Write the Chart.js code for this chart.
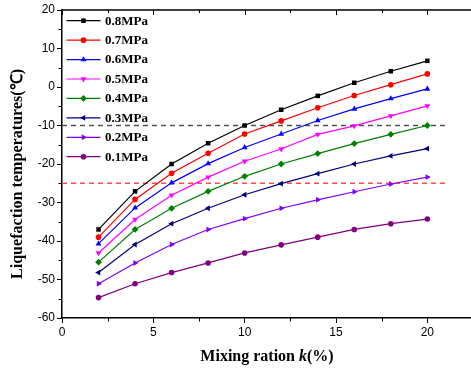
<!DOCTYPE html>
<html>
<head>
<meta charset="utf-8">
<script src="https://cdn.jsdelivr.net/npm/chart.js@4"></script>
<style>
  html, body { margin: 0; padding: 0; background: #fff; overflow: hidden; }
  #wrap { width: 471px; height: 373px; overflow: hidden; }
</style>
</head>
<body>
<div id="wrap"><canvas id="tempChart" width="480" height="373"></canvas></div>
<script>
// mixing ratio k (%)
const ratios = [2, 4, 6, 8, 10, 12, 14, 16, 18, 20];

// liquefaction temperature (C) per pressure
const p08 = [-37.0, -27.1, -20.0, -14.6, -10.0, -5.9, -2.3, 1.1, 4.1, 6.8];
const p07 = [-39.0, -29.2, -22.4, -17.2, -12.2, -8.8, -5.4, -2.2, 0.6, 3.4];
const p06 = [-40.7, -31.4, -24.9, -19.9, -15.7, -12.2, -8.7, -5.7, -3.0, -0.5];
const p05 = [-43.1, -34.4, -28.1, -23.4, -19.3, -16.1, -12.3, -10.1, -7.5, -4.9];
const p04 = [-45.5, -37.0, -31.5, -27.1, -23.2, -20.0, -17.3, -14.7, -12.3, -10.0];
const p03 = [-48.2, -40.9, -35.5, -31.5, -28.0, -25.1, -22.5, -20.0, -17.9, -16.0];
const p02 = [-51.1, -45.7, -40.9, -37.0, -34.2, -31.5, -29.3, -27.2, -25.2, -23.4];
const p01 = [-54.7, -51.1, -48.2, -45.7, -43.1, -41.0, -39.0, -37.0, -35.5, -34.3];

const seriesNames = ["0.8MPa", "0.7MPa", "0.6MPa", "0.5MPa", "0.4MPa", "0.3MPa", "0.2MPa", "0.1MPa"];
const seriesValues = [p08, p07, p06, p05, p04, p03, p02, p01];

// reference lines
const refLevels = [-10, -25];
const refSpan = [0, 21];

const colors = ["#000000", "#ff0000", "#0000ff", "#ff00ff", "#008000", "#000080", "#8000ff", "#800080"];
const styles = ["rect", "circle", "triangle", "triangle", "rectRot", "triangle", "triangle", "circle"];
const rotations = [0, 0, 0, 180, 0, 270, 90, 0];
const refColors = ["#505050", "#ff4d4d"];

function markerSize(style) {
    if (style === "circle") return 2.8;
    if (style === "rect") return 3.2;
    return 3.4;
}

const datasets = seriesValues.map((vals, i) => ({
    label: seriesNames[i],
    data: vals.map((v, j) => ({ x: ratios[j], y: v })),
    borderColor: colors[i],
    backgroundColor: colors[i],
    borderWidth: 1.2,
    pointStyle: styles[i],
    pointRotation: rotations[i],
    pointRadius: markerSize(styles[i]),
    pointBorderWidth: 0,
    tension: 0
}));

refLevels.forEach((lvl, i) => {
    datasets.push({
        label: "ref" + i,
        data: refSpan.map(x => ({ x: x, y: lvl })),
        borderColor: refColors[i],
        borderWidth: 1.3,
        borderDash: [5, 4],
        pointRadius: 0
    });
});

function drawMarker(ctx, style, rot, x, y, r, color) {
    if (Chart.helpers && Chart.helpers.drawPoint) {
        ctx.fillStyle = color;
        ctx.strokeStyle = color;
        ctx.lineWidth = 0;
        Chart.helpers.drawPoint(ctx, { pointStyle: style, rotation: rot, radius: r, borderWidth: 0 }, x, y);
    }
}

const serif = "'Liberation Serif', 'Times New Roman', serif";

const framePlugin = {
    id: "frame",
    afterDraw(chart) {
        const ctx = chart.ctx;
        const a = chart.chartArea;
        const xs = chart.scales.x;
        const ys = chart.scales.y;
        ctx.save();
        // top border with inward ticks
        ctx.strokeStyle = "#000";
        ctx.lineWidth = 1.5;
        ctx.beginPath();
        ctx.moveTo(a.left, a.top);
        ctx.lineTo(a.right, a.top);
        ctx.stroke();
        ctx.lineWidth = 1;
        for (let v = 0; v <= 22.5; v += 2.5) {
            const px = Math.round(xs.getPixelForValue(v)) + 0.5;
            const len = v % 5 === 0 ? 5 : 3;
            ctx.beginPath();
            ctx.moveTo(px, a.top);
            ctx.lineTo(px, a.top + len);
            ctx.stroke();
        }
        // short minor ticks, outside
        for (let v = 2.5; v <= 22.5; v += 5) {
            const px = Math.round(xs.getPixelForValue(v)) + 0.5;
            ctx.beginPath();
            ctx.moveTo(px, a.bottom);
            ctx.lineTo(px, a.bottom + 3.5);
            ctx.stroke();
        }
        for (let v = -55; v <= 20; v += 10) {
            const py = Math.round(ys.getPixelForValue(v)) + 0.5;
            ctx.beginPath();
            ctx.moveTo(a.left, py);
            ctx.lineTo(a.left - 3.5, py);
            ctx.stroke();
        }

        // legend
        ctx.font = "bold 13px " + serif;
        ctx.textBaseline = "middle";
        ctx.textAlign = "left";
        seriesNames.forEach((name, i) => {
            const y = 20.7 + i * 19.43;
            ctx.strokeStyle = colors[i];
            ctx.lineWidth = 1.2;
            ctx.beginPath();
            ctx.moveTo(66.5, y);
            ctx.lineTo(100.5, y);
            ctx.stroke();
            drawMarker(ctx, styles[i], rotations[i], 83.5, y, markerSize(styles[i]), colors[i]);
            ctx.fillStyle = "#000";
            ctx.fillText(name, 105, y + 0.5);
        });

        // x title with italic k
        const parts = [["Mixing ration ", "bold"], ["k", "italic bold"], ["(%)", "bold"]];
        let total = 0;
        parts.forEach(p => {
            ctx.font = p[1] + " 16px " + serif;
            total += ctx.measureText(p[0]).width;
        });
        let x = 267 - total / 2;
        ctx.fillStyle = "#000";
        parts.forEach(p => {
            ctx.font = p[1] + " 16px " + serif;
            ctx.fillText(p[0], x, 357);
            x += ctx.measureText(p[0]).width;
        });

        // y title, sized to the reference span
        const yTitle = "Liquefaction temperatures(\u2103)";
        let fs = 16;
        ctx.font = "bold " + fs + "px " + serif;
        const w = ctx.measureText(yTitle).width;
        fs = Math.min(17, Math.max(13, fs * 210 / w));
        ctx.translate(18, 174);
        ctx.rotate(-Math.PI / 2);
        ctx.textAlign = "center";
        ctx.font = "bold " + fs.toFixed(1) + "px " + serif;
        ctx.fillText(yTitle, 0, 0);
        ctx.restore();
    }
};

const majorOnlyX = c => (c.tick && c.tick.value % 5 === 0 ? "#000" : "rgba(0,0,0,0)");
const majorOnlyY = c => (c.tick && c.tick.value % 10 === 0 ? "#000" : "rgba(0,0,0,0)");

const ctx = document.getElementById("tempChart").getContext("2d");
new Chart(ctx, {
    type: "line",
    data: { datasets: datasets },
    plugins: [framePlugin],
    options: {
        responsive: false,
        devicePixelRatio: 1,
        animation: false,
        layout: { padding: { top: 10, right: 7, left: 0, bottom: 0 } },
        plugins: { legend: { display: false }, tooltip: { enabled: false } },
        scales: {
            x: {
                type: "linear",
                min: 0,
                max: 22.5,
                afterFit: s => { s.height = 55; },
                ticks: {
                    stepSize: 2.5,
                    autoSkip: false,
                    maxRotation: 0,
                    padding: 2,
                    color: "#000",
                    font: { family: "'Liberation Sans', Arial, sans-serif", size: 12 },
                    callback: v => (v % 5 === 0 && v <= 20 ? v : "")
                },
                grid: { drawOnChartArea: false, tickLength: 5, color: majorOnlyX },
                border: { color: "#000", width: 1.5 }
            },
            y: {
                min: -60,
                max: 20,
                afterFit: s => { s.width = 62; },
                ticks: {
                    stepSize: 5,
                    autoSkip: false,
                    padding: 2,
                    color: "#000",
                    font: { family: "'Liberation Sans', Arial, sans-serif", size: 12 },
                    callback: v => (v % 10 === 0 ? v : "")
                },
                grid: { drawOnChartArea: false, tickLength: 5, color: majorOnlyY },
                border: { color: "#000", width: 1.5 }
            }
        }
    }
});
</script>
</body>
</html>
